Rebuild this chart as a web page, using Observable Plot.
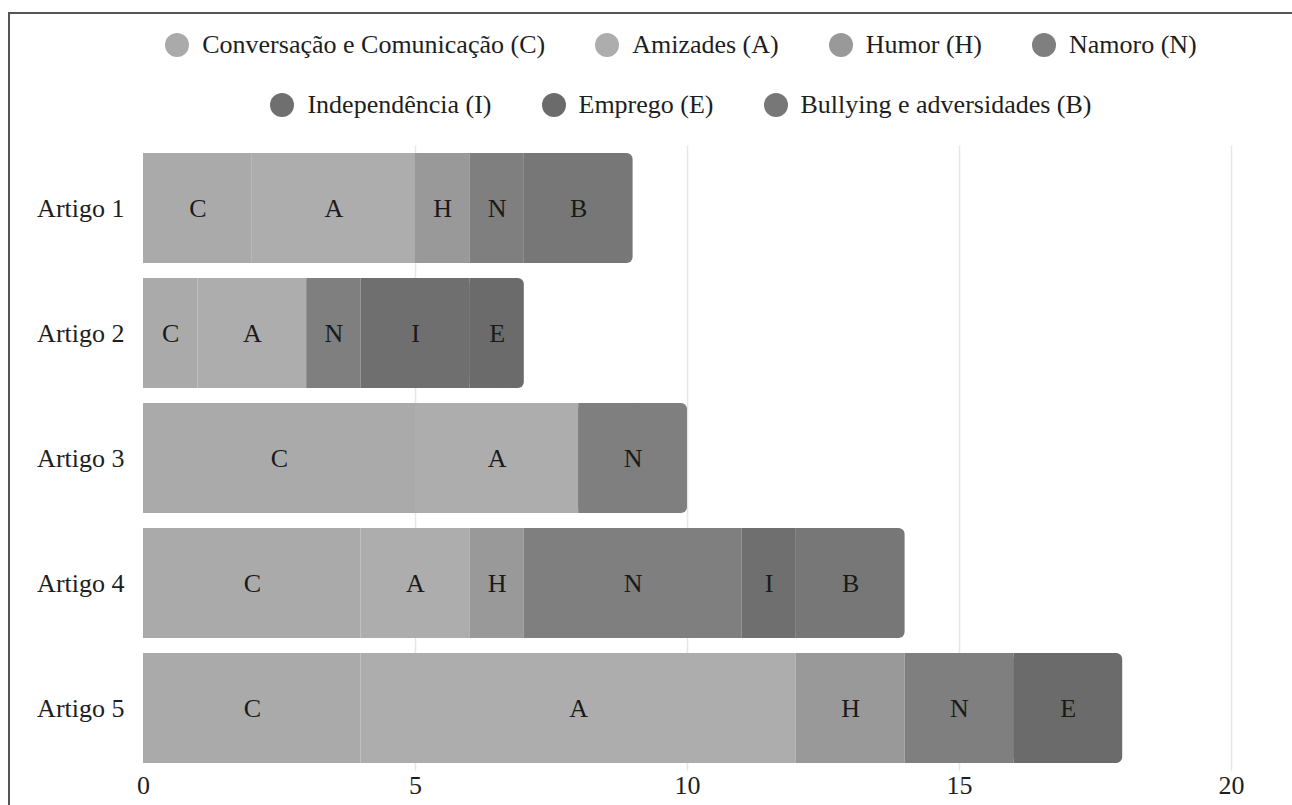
<!DOCTYPE html>
<html>
<head>
<meta charset="utf-8">
<script src="https://cdn.jsdelivr.net/npm/d3@7"></script>
<script src="https://cdn.jsdelivr.net/npm/@observablehq/plot@0.6"></script>
<style>
  html, body { margin: 0; padding: 0; background: #fff; overflow: hidden; }
  body { width: 1292px; height: 805px; position: relative; font-family: "Liberation Serif", Tinos, "Times New Roman", "DejaVu Serif", serif; color: #1e1e1e; }
  #frame { position: absolute; left: 8px; top: 12px; width: 2000px; height: 2000px; border-left: 2px solid #555; border-top: 2px solid #555; box-sizing: border-box; }
  .legend-row { position: absolute; left: 0; width: 1362px; height: 30px; line-height: 30px; display: flex; justify-content: center; align-items: center; font-size: 26px; white-space: nowrap; }
  .item { display: flex; align-items: center; margin: 0 25px; }
  .dot { width: 24px; height: 24px; border-radius: 50%; margin-right: 13px; }
  #chart { position: absolute; left: 0; top: 130px; }
</style>
</head>
<body>
<div id="frame"></div>
<div id="legend1" class="legend-row" style="top:30px"></div>
<div id="legend2" class="legend-row" style="top:90px"></div>
<div id="chart"></div>
<script>
const articles = ["Artigo 1", "Artigo 2", "Artigo 3", "Artigo 4", "Artigo 5"];
const themeCodes = ["C", "A", "H", "N", "I", "E", "B"];
const themeNames = ["Conversação e Comunicação (C)", "Amizades (A)", "Humor (H)", "Namoro (N)", "Independência (I)", "Emprego (E)", "Bullying e adversidades (B)"];
const themeColors = ["#aaaaaa", "#adadad", "#999999", "#7f7f7f", "#6f6f6f", "#6b6b6b", "#777777"];
const valuesC = [2, 1, 5, 4, 4];
const valuesA = [3, 2, 3, 2, 8];
const valuesH = [1, 0, 0, 1, 2];
const valuesN = [1, 1, 2, 4, 2];
const valuesI = [0, 2, 0, 1, 0];
const valuesE = [0, 1, 0, 0, 2];
const valuesB = [2, 0, 0, 2, 0];
const xTicks = [0, 5, 10, 15, 20];

const seriesValues = [valuesC, valuesA, valuesH, valuesN, valuesI, valuesE, valuesB];
const FONT = "'Liberation Serif', Tinos, 'Times New Roman', 'DejaVu Serif', serif";

// legend
const rows = [[0, 1, 2, 3], [4, 5, 6]];
rows.forEach((idxs, r) => {
  const el = document.getElementById(r === 0 ? "legend1" : "legend2");
  idxs.forEach(i => {
    const it = document.createElement("div");
    it.className = "item";
    const d = document.createElement("span");
    d.className = "dot";
    d.style.background = themeColors[i];
    const t = document.createElement("span");
    t.textContent = themeNames[i];
    it.appendChild(d); it.appendChild(t);
    el.appendChild(it);
  });
});

// build segments
const segs = [];
articles.forEach((art, j) => {
  let cum = 0;
  const list = [];
  themeCodes.forEach((code, i) => {
    const v = seriesValues[i][j];
    if (v > 0) {
      list.push({article: art, theme: code, value: v, x1: cum, x2: cum + v, mid: cum + v / 2, color: themeColors[i], last: false});
      cum += v;
    }
  });
  list[list.length - 1].last = true;
  segs.push(...list);
});
const body = segs.filter(d => !d.last);
const lasts = segs.filter(d => d.last);

const chart = Plot.plot({
  width: 1292,
  height: 675,
  marginLeft: 143,
  marginRight: 61,
  marginTop: 15.5,
  marginBottom: 34.5,
  style: {fontFamily: FONT, fontSize: "26px", color: "#1e1e1e", background: "transparent"},
  x: {domain: [0, 20], ticks: xTicks, tickSize: 0, tickPadding: 5, label: null, tickFormat: d => String(d)},
  y: {domain: articles, paddingInner: 0.12, paddingOuter: 0.06, tickSize: 0, tickPadding: 19, label: null},
  marks: [
    Plot.ruleX(xTicks.slice(1), {stroke: "#e6e6e6", strokeWidth: 1.5}),
    Plot.barX(body, {x1: "x1", x2: "x2", y: "article", fill: "color"}),
    Plot.barX(lasts, {x1: "x1", x2: "x2", y: "article", fill: "color", rx: 6}),
    Plot.barX(lasts, {x1: "x1", x2: "mid", y: "article", fill: "color"}),
    Plot.text(segs, {x: "mid", y: "article", text: "theme", fill: "#1a1a1a", fontSize: 26, fontFamily: FONT})
  ]
});
document.getElementById("chart").appendChild(chart);
</script>
</body>
</html>
